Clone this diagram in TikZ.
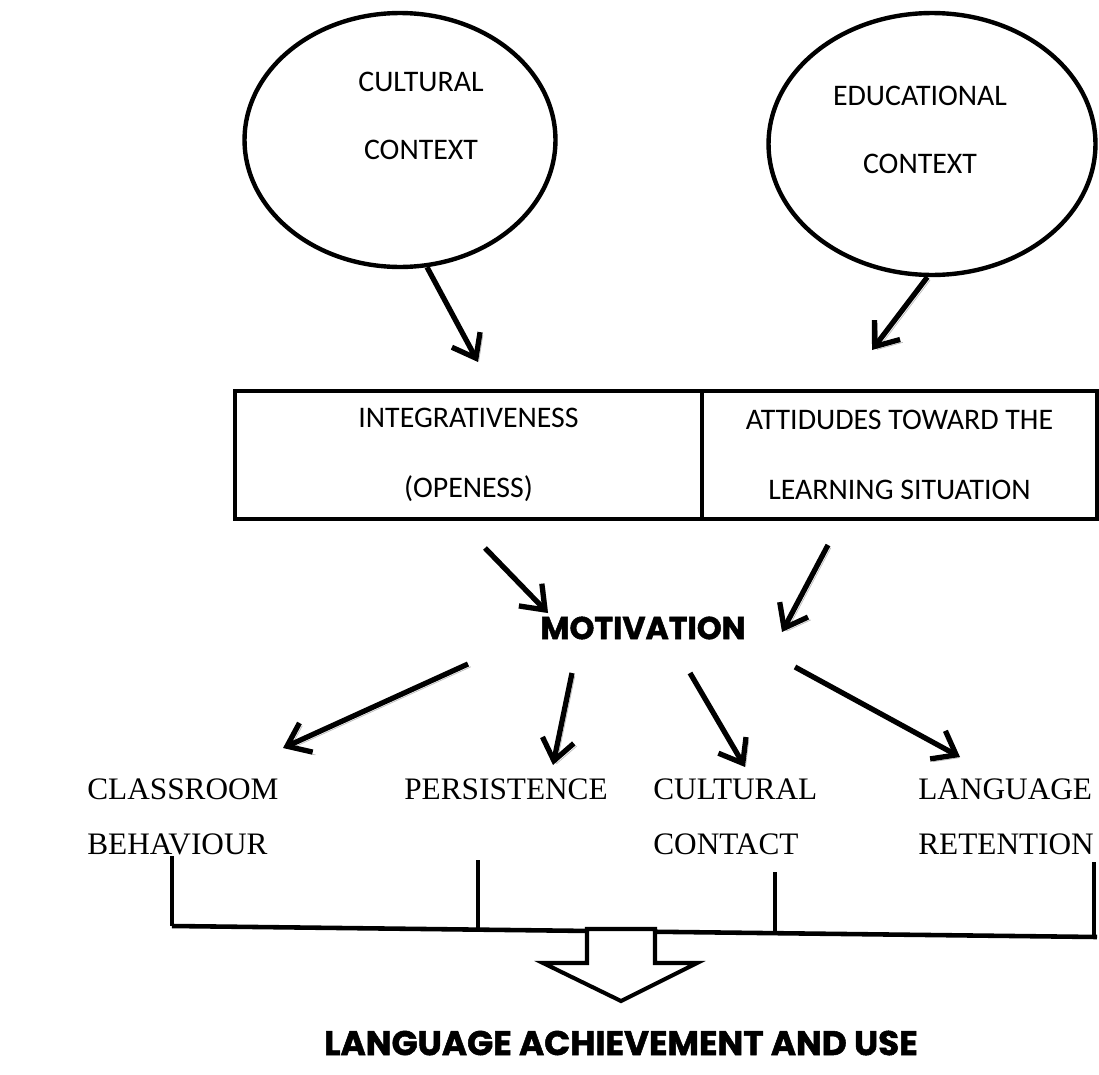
\documentclass[tikz,border=0pt]{standalone}
\usepackage{fontspec}
\usetikzlibrary{arrows.meta,positioning,shapes.geometric}
\newfontfamily\calfont{Carlito}
\newfontfamily\romfont{Liberation Serif}
\newfontfamily\heavyfont{Poppins}[BoldFeatures={FakeBold=1.5}]

\begin{document}
\begin{tikzpicture}[
			x=0.02cm, y=-0.02cm,
			ctx/.style={ellipse,draw,line width=2.5pt,inner sep=0pt},
			ctxtext/.style={font=\calfont\fontsize{17}{39}\selectfont,align=center,inner sep=0pt},
			attbox/.style={rectangle,draw,line width=2.4pt,minimum height=2.56cm,inner sep=0pt,
				font=\calfont\fontsize{17}{40}\selectfont,align=center},
			outcome/.style={anchor=north west,inner sep=0pt,align=left,
				font=\romfont\fontsize{17.8}{31.5}\selectfont},
			heavy/.style={inner sep=0pt,font=\heavyfont\bfseries\fontsize{18}{20}\selectfont},
			post/.style={-{Straight Barb[length=4.2mm,width=6.4mm]},line width=3pt,
				preaction={draw=gray!55,transform canvas={xshift=1.6pt,yshift=-1.6pt}}},
			tick/.style={line width=2pt}]

		\useasboundingbox (0,0) rectangle (1099,1075);

		\node[ctx,minimum width=6.22cm,minimum height=5.08cm] (cult) at (400,140) {};
		\node[ctxtext] (culttext) at (421,116) {CULTURAL\\CONTEXT};
		\node[ctx,minimum width=6.54cm,minimum height=5.24cm] (educ) at (932,144) {};
		\node[ctxtext] (eductext) at (920,130) {EDUCATIONAL\\CONTEXT};

		\node[attbox,minimum width=9.34cm] (integ) at (468.5,455) {INTEGRATIVENESS\\(OPENESS)};
		\node[attbox,minimum width=7.9cm] (attit) at (899.5,455) {ATTIDUDES TOWARD THE\\LEARNING SITUATION};

		\node[heavy] (mot) at (643,628) {MOTIVATION};

		\node[outcome] (class) at (87,778) {CLASSROOM\\BEHAVIOUR};
		\node[outcome] (pers) at (404,778) {PERSISTENCE};
		\node[outcome] (contact) at (653,778) {CULTURAL\\CONTACT};
		\node[outcome] (retent) at (918,778) {LANGUAGE\\RETENTION};

		\coordinate (integin) at (478,362);
		\coordinate (attitin) at (872,350);
		\coordinate (integout) at (485,548);
		\coordinate (attitout) at (828,545);
		\coordinate (motin1) at (548,613);
		\coordinate (motin2) at (782,632);
		\coordinate (mot1) at (468,664);
		\coordinate (mot2) at (572,673);
		\coordinate (mot3) at (690,673);
		\coordinate (mot4) at (795,667);
		\coordinate (classin) at (283,748);
		\coordinate (persin) at (553,765);
		\coordinate (contactin) at (745,767);
		\coordinate (retentin) at (960,757);

		\draw[post] (cult.-78) -- (integin);
		\draw[post] (educ.-92) -- (attitin);
		\draw[post] (integout) -- (motin1);
		\draw[post] (attitout) -- (motin2);
		\draw[post] (mot1) -- (classin);
		\draw[post] (mot2) -- (persin);
		\draw[post] (mot3) -- (contactin);
		\draw[post] (mot4) -- (retentin);

		\coordinate (lineleft) at (172,926);
		\coordinate (lineright) at (1097,937);
		\draw[line width=2.6pt] (lineleft) -- (lineright);
		\foreach \x/\ya/\yb in {172/856/926, 478/860/930, 775/872/934, 1094/862/937}
			\draw[tick] (\x,\ya) -- (\x,\yb);

		\draw[line width=2.3pt,fill=white] (587,929) -- (587,963) -- (543,963) -- (621,1001)
			-- (697,963) -- (655,963) -- (655,929) -- cycle;

		\node[heavy,font=\heavyfont\bfseries\fontsize{19.5}{22}\selectfont] (goal) at (621,1043) {LANGUAGE ACHIEVEMENT AND USE};
	\end{tikzpicture}
\end{document}
